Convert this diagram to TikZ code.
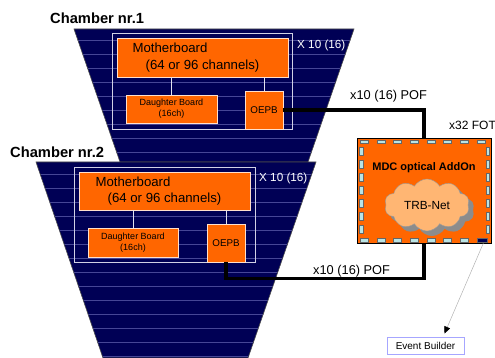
\documentclass[tikz,border=0pt]{standalone}
\usepackage{fontspec}
\setmainfont{Liberation Sans}
\usetikzlibrary{shapes.symbols,shadows,arrows.meta}
\definecolor{chambercol}{RGB}{0,0,85}
\definecolor{stripecol}{RGB}{70,70,150}
\definecolor{boardcol}{RGB}{255,102,0}
\definecolor{peach}{RGB}{255,182,115}
\definecolor{fotcol}{RGB}{185,228,228}
\tikzset{
  chamberline/.style={draw=black!70,line width=0.6pt},
  stripeline/.style={draw=stripecol,line width=0.45pt},
  frame/.style={draw=white!75!stripecol,line width=0.7pt,inner sep=0pt},
  boardbox/.style={fill=boardcol,draw=white!80!boardcol,line width=0.7pt,inner sep=0pt,align=center},
  wire/.style={draw=white!85!stripecol,line width=1pt},
  fiber/.style={line width=3.5pt,line join=miter},
  tag/.style={inner sep=0pt,anchor=west,font=\fontsize{12}{14}\selectfont},
  chambertitle/.style={inner sep=0pt,anchor=west,font=\bfseries\fontsize{14.7}{16}\selectfont},
  mbfont/.style={font=\fontsize{13.2}{16.5}\selectfont},
  dbfont/.style={font=\fontsize{9}{11}\selectfont},
  fotdash/.style={fill=fotcol,draw=black!60,line width=0.3pt}
}
\begin{document}
\begin{tikzpicture}[x=1pt,y=-1pt]
\useasboundingbox (0,0) rectangle (495,358);
% chamber 1
\begin{scope}
  \clip (74,29) -- (354,29) -- (308,162) -- (120,162) -- cycle;
  \fill[chambercol] (0,0) rectangle (495,358);
  \foreach \y in {40,54,...,162} \draw[stripeline] (0,\y) -- (495,\y);
\end{scope}
\draw[chamberline] (74,29) -- (354,29) -- (308,162) -- (120,162) -- cycle;
% chamber 2
\begin{scope}
  \clip (36,162) -- (316,162) -- (248,358) -- (103,358) -- cycle;
  \fill[chambercol] (0,0) rectangle (495,358);
  \foreach \y in {174,188,...,358} \draw[stripeline] (0,\y) -- (495,\y);
\end{scope}
\draw[chamberline] (36,162) -- (316,162) -- (248,358) -- (103,358) -- cycle;

\node[chambertitle] (title1) at (50,18) {Chamber nr.1};
\node[chambertitle] (title2) at (10,152) {Chamber nr.2};

% boards of chamber 1
\node[frame,minimum width=180pt,minimum height=96pt] (frame1) at (202,81) {};
\node[boardbox,mbfont,align=left,minimum width=171pt,minimum height=39pt] (mb1) at (202.5,57.5)
  {Motherboard\\\hspace*{13pt}(64 or 96 channels)\hspace*{13pt}\mbox{}};
\node[boardbox,dbfont,minimum width=91pt,minimum height=28pt] (db1) at (171.5,109) {Daughter Board\\(16ch)};
\node[boardbox,font=\fontsize{9.8}{12}\selectfont,minimum width=38pt,minimum height=38pt] (oepb1) at (264,110) {OEPB};
\draw[wire] (db1.north) -- (db1.north |- mb1.south);
\draw[wire] (oepb1.north) -- (oepb1.north |- mb1.south);
\node[tag,font=\fontsize{11.7}{14}\selectfont,text=white] (mult1) at (297,45) {X 10 (16)};

% boards of chamber 2
\node[frame,minimum width=181pt,minimum height=95pt] (frame2) at (164.5,214.5) {};
\node[boardbox,mbfont,align=left,minimum width=171pt,minimum height=38pt] (mb2) at (164.5,191)
  {Motherboard\\\hspace*{12pt}(64 or 96 channels)\hspace*{12pt}\mbox{}};
\node[boardbox,dbfont,minimum width=90pt,minimum height=29pt] (db2) at (133,242.5) {Daughter Board\\(16ch)};
\node[boardbox,font=\fontsize{9.8}{12}\selectfont,minimum width=38pt,minimum height=38pt] (oepb2) at (226,243) {OEPB};
\draw[wire] (db2.north) -- (db2.north |- mb2.south);
\draw[wire] (oepb2.north) -- (oepb2.north |- mb2.south);
\node[tag,font=\fontsize{11.7}{14}\selectfont,text=white] (mult2) at (259,178) {X 10 (16)};

% optical addon
\node[draw=black,fill=boardcol,line width=0.6pt,minimum width=134pt,minimum height=105pt,inner sep=0pt] (addon) at (424,190.5) {};
\foreach \i in {0,...,7} {
  \fill[fotdash] (360+16.7*\i,140) rectangle ++(8,3.5);
}
\foreach \i in {0,...,6} {
  \fill[fotdash] (360+16.7*\i,238.5) rectangle ++(8,3.5);
}
\fill[chambercol,draw=black!60,line width=0.3pt] (477,238) rectangle (487,242.5);
\foreach \i in {0,...,6} {
  \fill[fotdash] (359.3,147+13*\i) rectangle ++(3.5,8);
  \fill[fotdash] (486,147+13*\i) rectangle ++(3.5,8);
}
\node[inner sep=0pt,font=\bfseries\fontsize{11}{13}\selectfont] (addontitle) at (424,168) {MDC optical AddOn};
\node[cloud,cloud puffs=10,cloud puff arc=120,aspect=1.6,fill=peach,draw=black!40,line width=0.4pt,
  minimum width=85pt,minimum height=52pt,inner sep=0pt,font=\fontsize{11.8}{14}\selectfont,
  drop shadow={shadow xshift=5pt,shadow yshift=-5pt,fill=black!45,opacity=1}] (trbnet) at (427,205) {TRB-Net};
\node[tag] (fot) at (449,125) {x32 FOT};

% fibres
\draw[fiber] (oepb1.east) -- (oepb1.east -| addon.north) -- (addon.north);
\draw[fiber] (oepb2.south) -- ++(0,16) -| (addon.south);
\node[tag,font=\fontsize{12.8}{14}\selectfont] (pof1) at (350,96) {x10 (16) POF};
\node[tag,font=\fontsize{12.8}{14}\selectfont] (pof2) at (313,271) {x10 (16) POF};

% event builder
\node[draw=blue!35,line width=0.8pt,fill=white,minimum width=77pt,minimum height=17pt,inner sep=0pt,
  font=\fontsize{10}{12}\selectfont] (eb) at (425.5,345.5) {Event Builder};
\draw[black!30,line width=0.5pt,-{Triangle[black,length=7pt,width=6pt]}] ([xshift=-8pt]addon.south east) -- ([xshift=19pt,yshift=3pt]eb.north);
\end{tikzpicture}
\end{document}
